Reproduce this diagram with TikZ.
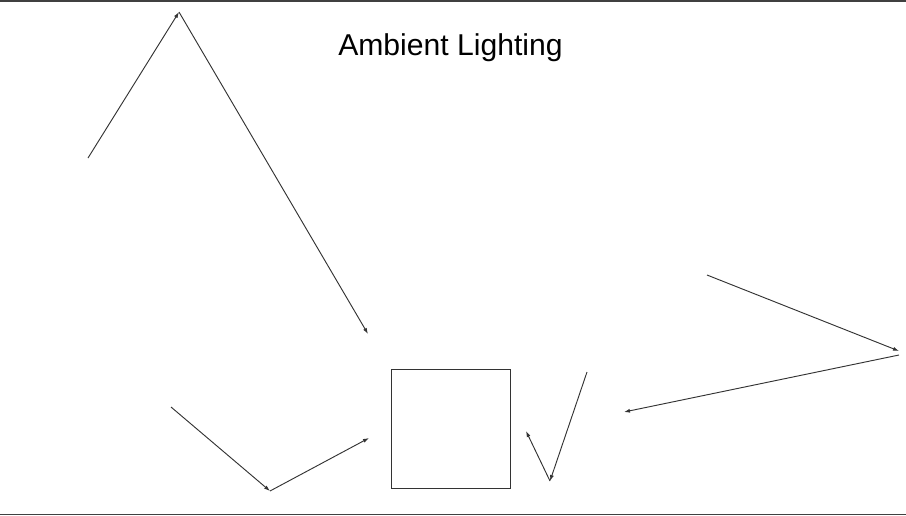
\documentclass[tikz,border=0pt]{standalone}
\usepackage{fontspec}
\setmainfont{Liberation Sans}
\usetikzlibrary{arrows.meta}
\tikzset{ray/.style={draw=black!80,line width=0.7pt,-{Latex[length=4.5pt,width=3pt]}}}
\begin{document}
\begin{tikzpicture}[x=0.75pt,y=-0.75pt,line width=0.7pt,every node/.style={inner sep=0pt}]
\useasboundingbox (0,0) rectangle (906,515);
\fill[black!75] (0,0) rectangle (906,2);
\fill[black!75] (0,513.5) rectangle (906,515);
\node (title) at (450.5,47.5) {\fontsize{22.6pt}{26pt}\selectfont Ambient Lighting};
% ray from upper left
\coordinate (A0) at (88,158);
\coordinate (A1) at (179,12);
\coordinate (A2) at (368,334);
% ray bottom left
\coordinate (B0) at (171,407);
\coordinate (B1) at (270,491);
\coordinate (B2) at (369,438);
% ray right of the box
\coordinate (C0) at (587,372);
\coordinate (C1) at (550,481);
\coordinate (C2) at (526,431);
% ray far right
\coordinate (D0) at (707,275);
\coordinate (D1) at (899,351);
\coordinate (D2) at (899,355);
\coordinate (D3) at (624,412);
\draw[black!80] (391.5,369.5) rectangle (510.5,488);
\draw[ray] (A0) -- (A1);
\draw[ray] (A1) -- (A2);
\draw[ray] (B0) -- (B1);
\draw[ray] (B1) -- (B2);
\draw[ray] (C0) -- (C1);
\draw[ray] (C1) -- (C2);
\draw[ray] (D0) -- (D1);
\draw[ray] (D2) -- (D3);
\end{tikzpicture}
\end{document}
